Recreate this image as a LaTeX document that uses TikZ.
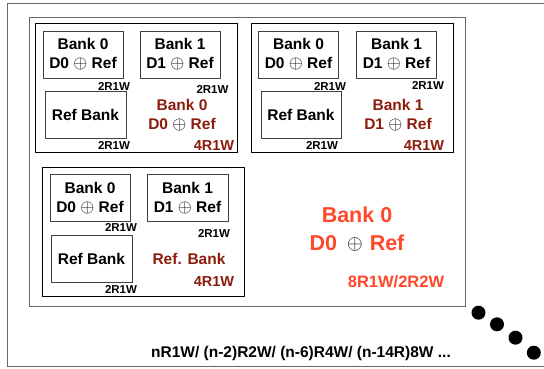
\documentclass[tikz,border=0pt]{standalone}
\usepackage{graphicx}
\usepackage{fontspec}
\setmainfont{Liberation Sans}
\definecolor{dred}{RGB}{140,28,12}
\definecolor{bred}{RGB}{255,72,42}
\newcommand\bankfont{\fontsize{15.5}{19}\selectfont\bfseries}
\newcommand\portfont{\fontsize{11.5}{13}\selectfont\bfseries}
\newcommand\bigfont{\fontsize{21.5}{26}\selectfont\bfseries}
\newcommand\xo{\scalebox{1.25}{$\oplus$}}
\tikzset{
  bankbox/.style={draw=black!75, line width=0.8pt, minimum width=80pt, minimum height=47pt, inner sep=0pt, align=center, font=\bankfont},
  groupbox/.style={draw=black, line width=0.9pt, inner sep=0pt},
  portlbl/.style={font=\portfont, inner sep=0pt},
  redlbl/.style={font=\bankfont, text=dred, inner sep=0pt, align=center},
  redport/.style={font=\fontsize{14.5}{17}\selectfont\bfseries, text=dred, inner sep=0pt},
  dotmark/.style={fill=black}
}
\begin{document}
\begin{tikzpicture}[x=1pt,y=-1pt]
\useasboundingbox (0,0) rectangle (544,369);
% outer open frame
\coordinate (otr) at (545,3);
\coordinate (otl) at (7,3);
\coordinate (obl) at (7,366);
\coordinate (obr) at (545,366);
\draw[black!60, line width=0.9pt] (otr) -- (otl) -- (obl) -- (obr);
% middle box
\node[draw=black!60, line width=0.9pt, inner sep=0pt, minimum width=436pt, minimum height=289pt] (mid) at (247,161.5) {};
% group A
\node[groupbox, minimum width=202pt, minimum height=129pt] (gA) at (136,87.5) {};
\node[bankbox] (a0) at (83,54.5) {Bank 0\\D0 \xo{} Ref};
\node[bankbox] (a1) at (180,54.5) {Bank 1\\D1 \xo{} Ref};
\node[bankbox, minimum width=81pt] (ar) at (85.5,114.5) {Ref Bank};
\node[portlbl] (a0p) at (114,86) {2R1W};
\node[portlbl] (a1p) at (212.5,89) {2R1W};
\node[portlbl] (arp) at (114,145) {2R1W};
\node[redlbl] (ared) at (182,115.5) {Bank 0\\D0 {\color{black}\xo{}} Ref};
\node[redport] (aport) at (214,146) {4R1W};
% group B
\node[groupbox, minimum width=202pt, minimum height=129pt] (gB) at (352,87.5) {};
\node[bankbox] (b0) at (298.5,54.5) {Bank 0\\D0 \xo{} Ref};
\node[bankbox] (b1) at (396.5,54.5) {Bank 1\\D1 \xo{} Ref};
\node[bankbox] (br) at (301,114.5) {Ref Bank};
\node[portlbl] (b0p) at (330,86) {2R1W};
\node[portlbl] (b1p) at (428,85.5) {2R1W};
\node[portlbl] (brp) at (322,145) {2R1W};
\node[redlbl] (bred) at (398,115.5) {Bank 1\\D1 {\color{black}\xo{}} Ref};
\node[redport] (bport) at (424,146) {4R1W};
% group C
\node[groupbox, minimum width=202pt, minimum height=129pt] (gC) at (143,231.5) {};
\node[bankbox] (c0) at (90,198) {Bank 0\\D0 \xo{} Ref};
\node[bankbox, minimum width=81pt] (c1) at (187.5,198) {Bank 1\\D1 \xo{} Ref};
\node[bankbox, minimum width=81pt] (cr) at (91.5,258.5) {Ref Bank};
\node[portlbl] (c0p) at (121,227) {2R1W};
\node[portlbl] (c1p) at (214,233) {2R1W};
\node[portlbl] (crp) at (121,289) {2R1W};
\node[redlbl] (cred) at (189,259) {Ref. Bank};
\node[redport] (cport) at (214,282) {4R1W};
% big label
\node[font=\bigfont, text=bred, inner sep=0pt] (big1) at (357,215) {Bank 0};
\node[font=\bigfont, text=bred, inner sep=0pt] (big2) at (357,243) {D0\hspace{10pt}{\color{black}\fontsize{15.5}{18}\selectfont\raisebox{1pt}{\scalebox{1.4}{$\oplus$}}}\hspace{7pt}Ref};
\node[font=\fontsize{16.5}{19}\selectfont\bfseries, text=bred, inner sep=0pt] (bigp) at (396,282) {8R1W/2R2W};
% dots
\fill[dotmark] (478.5,312.7) circle (7pt);
\fill[dotmark] (497,324.3) circle (7pt);
\fill[dotmark] (515.5,337.7) circle (7pt);
\fill[dotmark] (533.8,352.7) circle (7pt);
% bottom text
\node[font=\bankfont, inner sep=0pt] (bottom) at (301,353) {nR1W/ (n-2)R2W/ (n-6)R4W/ (n-14R)8W ...};
\end{tikzpicture}
\end{document}
